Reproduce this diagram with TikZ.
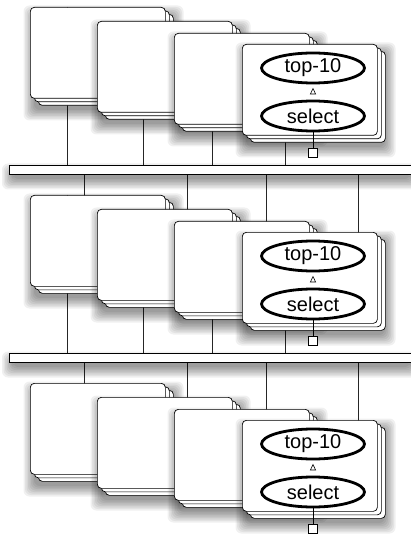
\documentclass[tikz,border=0pt]{standalone}
\usepackage{fontspec}
\setmainfont{Liberation Sans}
\usetikzlibrary{shapes.geometric,calc}
\pgfdeclarelayer{bg}
\pgfsetlayers{bg,main}
\tikzset{
 card/.style={draw=black, line width=0.7pt, fill=white, rounded corners=4pt, minimum width=135pt, minimum height=91pt, inner sep=0pt, anchor=north west},
 barbox/.style={draw=black, line width=0.8pt, fill=white, minimum height=9pt, minimum width=402pt, inner sep=0pt, anchor=north west},
 op/.style={ellipse, draw=black, line width=2.8pt, fill=white, minimum width=103pt, minimum height=30pt, inner sep=0pt, font=\fontsize{20}{22}\selectfont},
 port/.style={draw=black, line width=0.8pt, fill=white, minimum size=9pt, inner sep=0pt},
 wire/.style={draw=black!85, line width=0.7pt},
 tri/.style={draw=black, line width=0.6pt, fill=white},
}
% soft shadow: x1 y1 x2 y2
\newcommand\softshadow[4]{%
 \foreach \e in {-2,-0.5,1,2.5,4,5.5,7,8.5} {%
  \fill[black, opacity=0.06, rounded corners=6pt] ({#1+2-\e},{#2+7-\e}) rectangle ({#3+2+\e},{#4+7+\e});
 }%
}
% card stack: name, x, y
\newcommand\cstack[3]{%
 \softshadow{#2}{#3}{#2+143}{#3+98}%
 \node[card] (#1-c) at ({#2+8},{#3+7}) {};
 \node[card] (#1-b) at ({#2+4},{#3+3.5}) {};
 \node[card] (#1) at (#2,#3) {};
}
% group: prefix, dy
\newcommand\cgroup[2]{%
 \cstack{#1A}{30}{7+#2}
 \cstack{#1B}{97}{21+#2}
 \cstack{#1C}{174}{33+#2}
 \cstack{#1D}{242}{44+#2}
 \node[op] (#1top) at ($(#1D.north west)+(71,24)$) {top-10};
 \node[op] (#1sel) at ($(#1D.north west)+(71,72)$) {select};
 \node[port] (#1port) at ($(#1D.north west)+(71,108.5)$) {};
 \draw[line width=0.8pt] (#1sel) -- (#1port);
 \coordinate (#1m) at ($(#1sel.north)!0.5!(#1top.south)$);
 \draw[tri] ($(#1m)+(0,-3.5)$) -- ($(#1m)+(2.6,2)$) -- ($(#1m)+(-2.6,2)$) -- cycle;
}
% lines from a group down to a bar
\newcommand\downlinks[2]{%
 \coordinate (#1Ao) at ($(#1A.north west)!0.274!(#1A.north east)$);
 \coordinate (#1Bo) at ($(#1B.north west)!0.34!(#1B.north east)$);
 \coordinate (#1Co) at ($(#1C.north west)!0.28!(#1C.north east)$);
 \coordinate (#1Do) at ($(#1D.north west)!0.32!(#1D.north east)$);
 \begin{pgfonlayer}{bg}
 \foreach \n in {A,B,C,D} {\draw[wire] (#1\n o) -- (#1\n o |- #2.north);}
 \end{pgfonlayer}
}
% lines from a bar down to a group
\newcommand\uplinks[2]{%
 \coordinate (#1Ai) at ($(#1A.north west)!0.4!(#1A.north east)$);
 \coordinate (#1Bi) at ($(#1B.north west)!0.667!(#1B.north east)$);
 \coordinate (#1Ci) at ($(#1C.north west)!0.68!(#1C.north east)$);
 \coordinate (#1Di) at ($(#1D.north west)!0.86!(#1D.north east)$);
 \begin{pgfonlayer}{bg}
 \foreach \n in {A,B,C,D} {\draw[wire] ($(#1\n i)+(0,5)$) -- (#1\n i |- #2.south);}
 \end{pgfonlayer}
}
\begin{document}
\begin{tikzpicture}[x=1pt,y=-1pt]
\useasboundingbox (0,0) rectangle (411,534);
\clip (0,0) rectangle (411,534);
% group 1
\cgroup{g}{0}
\softshadow{8.5}{165}{410.5}{174}
\node[barbox] (barA) at (8.5,165) {};
\downlinks{g}{barA}
% group 2
\cgroup{h}{188}
\uplinks{h}{barA}
\softshadow{8.5}{353}{410.5}{362}
\node[barbox] (barB) at (8.5,353) {};
\downlinks{h}{barB}
% group 3
\cgroup{k}{376}
\uplinks{k}{barB}
\end{tikzpicture}
\end{document}
